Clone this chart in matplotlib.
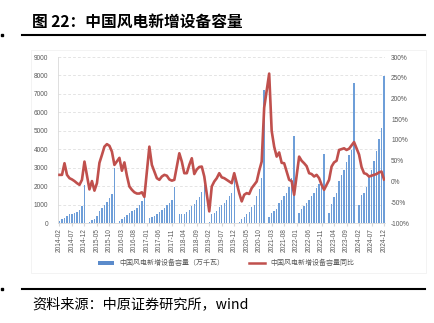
import numpy as np
import pandas as pd
import matplotlib
matplotlib.use('Agg')
import matplotlib.pyplot as plt
from matplotlib.patches import Rectangle, Patch
from matplotlib.lines import Line2D

plt.rcParams['font.family'] = ['Noto Sans CJK SC', 'DejaVu Sans']

# New wind capacity, cumulative year to date (万千瓦), Feb..Dec of each year
cap_2014 = [110, 200, 290, 400, 470, 510, 540, 600, 710, 920, 2070]
cap_2015 = [70, 160, 220, 380, 630, 830, 980, 1120, 1360, 1575, 2960]
cap_2016 = [130, 220, 340, 430, 560, 650, 720, 830, 980, 1200, 1430]
cap_2017 = [250, 340, 400, 490, 580, 700, 830, 960, 1070, 1250, 1970]
cap_2018 = [490, 490, 490, 580, 700, 940, 1010, 1250, 1430, 1680, 2060]
cap_2019 = [80, 470, 560, 670, 890, 980, 1070, 1250, 1470, 1610, 2480]
cap_2020 = [70, 220, 340, 470, 620, 850, 980, 1470, 1830, 2460, 7200]
cap_2021 = [340, 530, 650, 760, 1070, 1250, 1490, 1650, 1940, 2450, 4730]
cap_2022 = [560, 760, 940, 1070, 1250, 1490, 1610, 1920, 2100, 2190, 3750]
cap_2023 = [560, 1030, 1430, 1650, 2280, 2610, 2880, 3330, 3700, 3970, 7590]
cap_2024 = [980, 1500, 1650, 1970, 2580, 2900, 3360, 3910, 4560, 5150, 7980]

# Year-on-year change (%), Feb..Dec of each year
yoy_2014 = [16, 16, 44, 16, 8, 5, 1, -4, -8, 4, 48]
yoy_2015 = [-19, 1, -22, -4, 45, 64, 84, 90, 86, 72, 40]
yoy_2016 = [57, 26, 46, 14, -12, -20, -26, -29, -29, -26, -37]
yoy_2017 = [84, 40, 24, 8, 4, 12, 16, 14, 5, 2, 4]
yoy_2018 = [68, 48, 20, 20, 40, 56, 18, 29, 35, 36, 12]
yoy_2019 = [-72, -12, 0, 8, 20, 10, 8, 4, 0, -4, 20]
yoy_2020 = [-28, -48, -32, -28, -30, -16, -8, 0, 26, 48, 178]
yoy_2021 = [260, 122, 84, 60, 70, 45, 44, 24, 4, 1, -32]
yoy_2022 = [60, 50, 44, 37, 20, 18, 12, 16, 8, -8, -20]
yoy_2023 = [4, 36, 46, 50, 76, 78, 80, 76, 79, 87, 95]
yoy_2024 = [65, 35, 20, 18, 12, 14, 16, 18, 22, 24, 5]

caps = [cap_2014, cap_2015, cap_2016, cap_2017, cap_2018, cap_2019,
        cap_2020, cap_2021, cap_2022, cap_2023, cap_2024]
yoys = [yoy_2014, yoy_2015, yoy_2016, yoy_2017, yoy_2018, yoy_2019,
        yoy_2020, yoy_2021, yoy_2022, yoy_2023, yoy_2024]

months = pd.period_range('2014-02', '2024-12', freq='M')

# January is not reported on its own
cap, yoy = [], []
for i, (c, r) in enumerate(zip(caps, yoys)):
    if i > 0:
        cap.append(np.nan)
        yoy.append(np.nan)
    cap += c
    yoy += r
cap = np.array(cap, dtype=float)
yoy = np.array(yoy, dtype=float)
x = np.arange(len(months))

W, H = 435, 323
fig = plt.figure(figsize=(W / 100, H / 100), dpi=100)

grey = '#595959'
light = '#D9D9D9'

ax = fig.add_axes([58 / W, 1 - 223 / H, (385.5 - 58) / W, (223 - 57) / H])
ax.bar(x, cap, width=0.55, color='#6E9ED8', zorder=2)
ax.set_xlim(-0.6, len(x) - 0.4)
ax.set_ylim(0, 9000)
ax.set_yticks(np.arange(0, 9001, 1000))
ax.yaxis.grid(True, linestyle=(0, (4, 3)), color=light, linewidth=0.5)
ax.set_axisbelow(True)
for s in ['top', 'right']:
    ax.spines[s].set_visible(False)
for s in ['left', 'bottom']:
    ax.spines[s].set_color(light)
    ax.spines[s].set_linewidth(0.6)
ax.set_xticks(x[::5])
ax.set_xticklabels(months[::5].strftime('%Y-%m'), rotation=90,
                   fontsize=4.7, color=grey, family='Liberation Sans')
ax.tick_params(axis='x', length=2, color=light, pad=2)
ax.tick_params(axis='y', length=0, pad=7, labelsize=4.7, labelcolor=grey)
for lab in ax.get_yticklabels():
    lab.set_family('Liberation Sans')

ax2 = ax.twinx()
m = ~np.isnan(yoy)
ax2.plot(x[m], yoy[m] / 100, color='#C0504D', linewidth=1.9, zorder=3)
ax2.set_ylim(-1, 3)
ax2.set_yticks(np.arange(-1, 3.01, 0.5))
ax2.set_yticklabels([f'{v:.0f}%' for v in np.arange(-100, 301, 50)],
                    family='Liberation Sans')
ax2.tick_params(axis='y', length=0, pad=4, labelsize=4.7, labelcolor=grey)
for s in ax2.spines.values():
    s.set_visible(False)

handles = [Patch(facecolor='#5B8BCB', edgecolor='none'),
           Line2D([], [], color='#C0504D', linewidth=1.8)]
fig.legend(handles, ['中国风电新增设备容量（万千瓦）', '中国风电新增设备容量同比'],
           loc='center', bbox_to_anchor=(226 / W, 1 - 263 / H), ncol=2,
           frameon=False, fontsize=5, handlelength=2.3, handleheight=0.5,
           columnspacing=3.5, labelcolor=grey)

# chart frame
fig.add_artist(Rectangle((31 / W, 1 - 273 / H), (426 - 31) / W, (273 - 50) / H,
                         fill=False, edgecolor='#EEEEEE', linewidth=0.5))

# title, rules and source
fig.text(32 / W, 1 - 22 / H, '图 22：中国风电新增设备容量', fontsize=11.3,
         fontweight='bold', va='center', ha='left')
fig.add_artist(Line2D([22 / W, 425 / W], [1 - 34.7 / H] * 2, color='black', linewidth=1.5))
fig.add_artist(Line2D([22 / W, 425 / W], [1 - 289 / H] * 2, color='black', linewidth=1.5))
fig.add_artist(Rectangle((1 / W, 1 - 35.5 / H), 2 / W, 2 / H, color='black'))
fig.add_artist(Rectangle((1 / W, 1 - 290 / H), 2 / W, 2 / H, color='black'))
fig.text(32 / W, 1 - 304 / H, '资料来源：中原证券研究所，wind', fontsize=10.2,
         va='center', ha='left')

fig.savefig('out.png', dpi=100)
